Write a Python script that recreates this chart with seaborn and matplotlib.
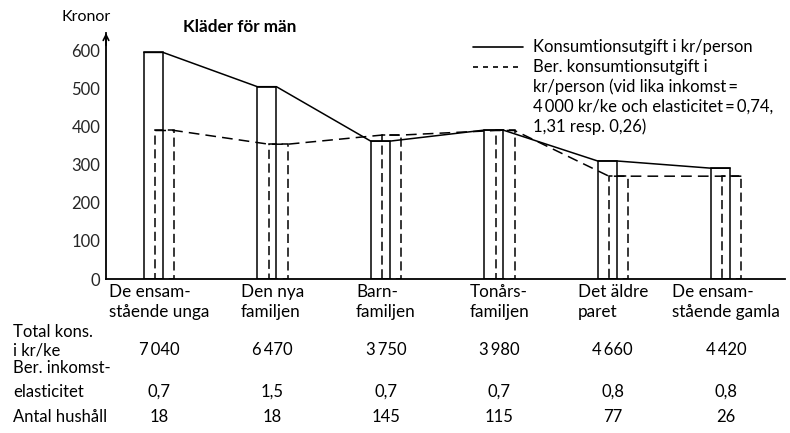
import numpy as np
import pandas as pd
import matplotlib
matplotlib.use("Agg")
import matplotlib.pyplot as plt
from matplotlib.lines import Line2D
import seaborn as sns

# ── data ────────────────────────────────────────────────
groups = ["De ensam-\nstående unga", "Den nya\nfamiljen", "Barn-\nfamiljen",
          "Tonårs-\nfamiljen", "Det äldre\nparet", "De ensam-\nstående gamla"]
actual = [595, 505, 362, 391, 310, 291]        # Konsumtionsutgift i kr/person
computed = [390, 354, 378, 390, 270, 270]      # Ber. konsumtionsutgift
total_kons = ["7\u2009040", "6\u2009470", "3\u2009750", "3\u2009980", "4\u2009660", "4\u2009420"]
elasticity = ["0,7", "1,5", "0,7", "0,7", "0,8", "0,8"]
households = ["18", "18", "145", "115", "77", "26"]
yticks = [0, 100, 200, 300, 400, 500, 600]

sns.set_style("white")
plt.rcParams["font.family"] = ["Lato", "DejaVu Sans"]
plt.rcParams["text.color"] = "black"

W, H = 790, 433
fig = plt.figure(figsize=(W / 100, H / 100), dpi=100)
ax = fig.add_axes([106 / W, 1 - 279 / H, (785 - 106) / W, (279 - 33) / H])

xs = np.arange(len(groups))
bw = 0.168
off = 0.1
lw = 1.1
FS = 12

# bars
ax.bar(xs, actual, width=bw, fill=False, edgecolor="black", linewidth=lw)
ax.bar(xs + off, computed, width=bw, fill=False, edgecolor="black",
       linewidth=lw, linestyle=(0, (6, 3)))

# connecting lines: across each bar top, then to the next bar
def step_points(centers, vals):
    px, py = [], []
    for c, v in zip(centers, vals):
        px += [c - bw / 2, c + bw / 2]
        py += [v, v]
    return pd.DataFrame({"x": px, "y": py})

sol = step_points(xs, actual)
das = step_points(xs + off, computed)
sns.lineplot(data=sol, x="x", y="y", sort=False, color="black", lw=lw, ax=ax)
sns.lineplot(data=das, x="x", y="y", sort=False, color="black", lw=lw,
             dashes=False, ax=ax, linestyle=(0, (7, 4)))

ax.set_xlim(-0.419, 5.569)
ax.set_ylim(0, 646)
ax.set_yticks(yticks)
ax.set_xticks([])
ax.set_xlabel("")
ax.set_ylabel("")
for s in ["top", "right"]:
    ax.spines[s].set_visible(False)
for s in ["left", "bottom"]:
    ax.spines[s].set_linewidth(1.3)
    ax.spines[s].set_color("black")
ax.tick_params(axis="y", direction="in", length=4, width=1.1, labelsize=12, pad=4)
ax.annotate("", xy=(0, 1.0), xytext=(0, 0.95), xycoords="axes fraction",
            arrowprops=dict(arrowstyle="->", lw=1.2, color="black",
                            shrinkA=0, shrinkB=0, mutation_scale=10))

# titles
fig.text(86 / W, 1 - 17 / H, "Kronor", fontsize=11.5, ha="center", va="center")
fig.text(240 / W, 1 - 27 / H, "Kläder för män", fontsize=12.3, fontweight="bold",
         ha="center", va="center")

# legend (drawn by hand, like the original)
fig.add_artist(Line2D([473 / W, 523 / W], [1 - 47 / H] * 2, color="black", lw=1.2))
fig.add_artist(Line2D([473 / W, 523 / W], [1 - 67 / H] * 2, color="black", lw=1.2,
                      linestyle=(0, (3, 3))))
leg_lines = ["Konsumtionsutgift i kr/person", "Ber. konsumtionsutgift i",
             "kr/person (vid lika inkomst\u2009=", "4\u2009000 kr/ke och elasticitet\u2009=\u20090,74,",
             "1,31 resp. 0,26)"]
for k, t in enumerate(leg_lines):
    fig.text(533 / W, 1 - (47 + 20 * k) / H, t, fontsize=FS, ha="left", va="center")

# category labels and table below the axis
lab_x = xs + 0.05
for i in range(len(groups)):
    ax.annotate(groups[i], xy=(lab_x[i], H - 302), xycoords=("data", "figure pixels"),
                ha="center", va="center", multialignment="left", fontsize=12.3,
                linespacing=1.25, annotation_clip=False)
    ax.annotate(total_kons[i], xy=(lab_x[i], H - 350), xycoords=("data", "figure pixels"),
                ha="center", va="center", fontsize=FS, annotation_clip=False)
    ax.annotate(elasticity[i], xy=(lab_x[i], H - 392), xycoords=("data", "figure pixels"),
                ha="center", va="center", fontsize=FS, annotation_clip=False)
    ax.annotate(households[i], xy=(lab_x[i], H - 417), xycoords=("data", "figure pixels"),
                ha="center", va="center", fontsize=FS, annotation_clip=False)

rows = [("Total kons.", 332), ("i kr/ke", 350), ("Ber. inkomst-", 368),
        ("elasticitet", 392), ("Antal hushåll", 417)]
for t, yp in rows:
    fig.text(13 / W, 1 - yp / H, t, fontsize=FS, ha="left", va="center")

fig.savefig("out.png", dpi=100)
